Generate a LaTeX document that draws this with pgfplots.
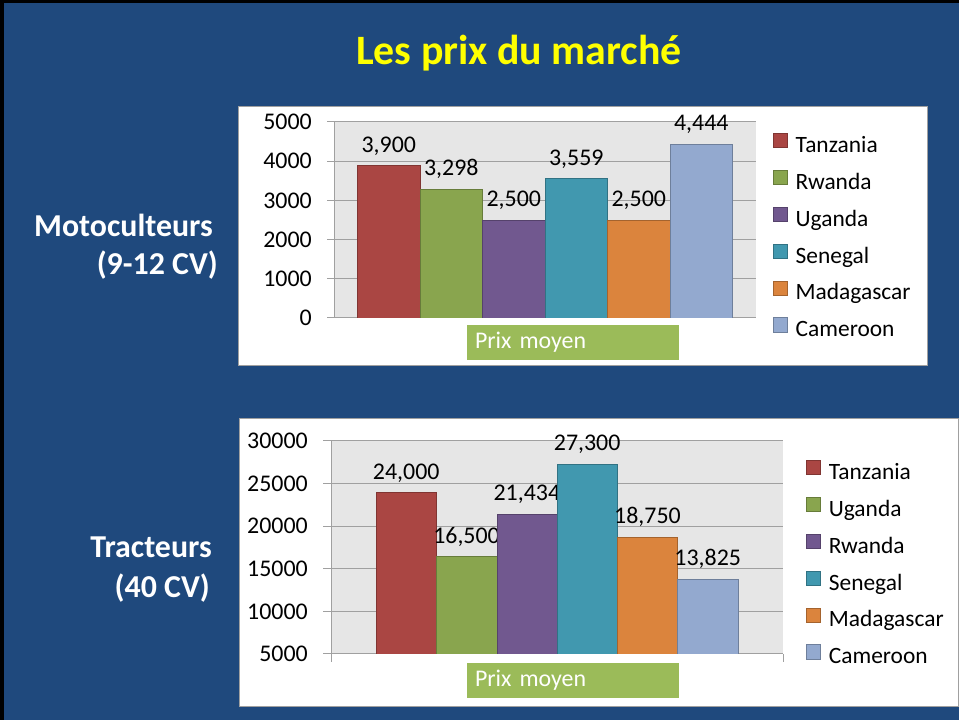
\documentclass[border=0pt]{standalone}
\usepackage{fontspec}
\setmainfont{Carlito}
\usepackage{pgfplots}
\pgfplotsset{compat=1.18}
\usetikzlibrary{shadows}
\definecolor{navy}{RGB}{31,73,125}
\definecolor{cA}{RGB}{170,70,67}
\definecolor{cB}{RGB}{137,165,78}
\definecolor{cC}{RGB}{113,88,143}
\definecolor{cD}{RGB}{65,152,175}
\definecolor{cE}{RGB}{219,132,61}
\definecolor{cF}{RGB}{147,169,207}
\definecolor{plotbg}{RGB}{230,230,230}
\definecolor{gridc}{RGB}{160,160,160}
\definecolor{boxgreen}{RGB}{155,187,89}
\definecolor{ttl}{RGB}{255,255,0}
\tikzset{prixbox/.style={anchor=north west, fill=boxgreen, draw=white, line width=4bp,
      minimum width=216bp, minimum height=39bp, text width=196bp, align=left,
      inner xsep=9bp, inner ysep=0pt, text=white, font=\fontsize{24}{28}\selectfont,
      drop shadow={shadow xshift=1.5bp, shadow yshift=-2bp, opacity=0.35, fill=black}}}
\pgfplotsset{
  sqlegend/.style={legend image code/.code={\draw[##1, line width=0.8bp] (0bp,-0.5bp) rectangle (14bp,14bp);}},
  prixbase/.style={
    scale only axis, ybar=0pt,
    axis background/.style={fill=plotbg},
    axis x line*=bottom, axis y line*=left,
    axis line style={draw=gridc, line width=1bp},
    ymajorgrids, grid style={draw=gridc, line width=1bp},
    tick style={draw=gridc, line width=1bp},
    major tick length=7bp, tick align=outside,
    xmin=-0.5, xmax=0.5,
    scaled y ticks=false,
    /pgf/number format/assume math mode=true,
    yticklabel style={font=\fontsize{24}{28}\selectfont, inner sep=0pt, xshift=-15bp, /pgf/number format/1000 sep={}},
    nodes near coords,
    nodes near coords style={font=\fontsize{24}{28}\selectfont, anchor=base, yshift=13bp, inner sep=0pt, text=black,
      /pgf/number format/.cd, fixed, precision=0, 1000 sep={,}},
    every axis plot post/.append style={sqlegend},
    legend cell align=left,
    legend style={draw=none, fill=none, inner sep=0pt, outer sep=0pt, row sep=13.5bp, column sep=8bp,
      font=\fontsize{23.5}{28}\selectfont, nodes={inner sep=0pt, text height=14bp, text depth=4bp}},
    clip mode=individual,
  }
}
\begin{document}
\begin{tikzpicture}[x=1bp,y=1bp]
\useasboundingbox (0,0) rectangle (959,720);
\fill[navy] (0,0) rectangle (959,720);
\fill[black] (0,717) rectangle (959,720);
\fill[black] (0,0) rectangle (4,720);
\node[anchor=base, inner sep=0pt, text=ttl, font=\fontsize{42}{50}\selectfont\bfseries] at (519,655) {Les prix du marché};
\node[anchor=base east, inner sep=0pt, text=white, font=\fontsize{32}{38}\selectfont\bfseries] at (213,483) {Motoculteurs};
\node[anchor=base east, inner sep=0pt, text=white, font=\fontsize{32}{38}\selectfont\bfseries] at (218,445) {(9-12 CV)};
\node[anchor=base east, inner sep=0pt, text=white, font=\fontsize{32}{38}\selectfont\bfseries] at (212,162) {Tracteurs};
\node[anchor=base east, inner sep=0pt, text=white, font=\fontsize{32}{38}\selectfont\bfseries] at (210,122) {(40 CV)};
\filldraw[fill=white, draw=gridc, line width=1bp] (238,354) rectangle (927,613);
\filldraw[fill=white, draw=gridc, line width=1bp] (239,13) rectangle (958,301);
\begin{axis}[prixbase, at={(334bp,402bp)}, anchor=south west, width=422bp, height=196bp,
  ymin=0, ymax=5000, ytick={0,1000,2000,3000,4000,5000}, bar width=62.5bp,
  xtick=\empty,
  legend style={at={(axis description cs:1.040,0.944)}, anchor=north west}]
\addplot[fill=cA, draw=cA!75!black] coordinates {(0,3900)};
\addplot[fill=cB, draw=cB!75!black] coordinates {(0,3298)};
\addplot[fill=cC, draw=cC!75!black] coordinates {(0,2500)};
\addplot[fill=cD, draw=cD!75!black] coordinates {(0,3559)};
\addplot[fill=cE, draw=cE!75!black] coordinates {(0,2500)};
\addplot[fill=cF, draw=cF!75!black] coordinates {(0,4444)};
\legend{Tanzania,Rwanda,Uganda,Senegal,Madagascar,Cameroon}
\end{axis}
\begin{axis}[prixbase, at={(331bp,66bp)}, anchor=south west, width=452bp, height=213bp,
  ymin=5000, ymax=30000, ytick={5000,10000,15000,20000,25000,30000}, bar width=60.3bp,
  xtick={-0.5,0.5}, xticklabels={}, major tick length=8bp,
  legend style={at={(axis description cs:1.051,0.911)}, anchor=north west}]
\addplot[fill=cA, draw=cA!75!black] coordinates {(0,24000)};
\addplot[fill=cB, draw=cB!75!black] coordinates {(0,16500)};
\addplot[fill=cC, draw=cC!75!black] coordinates {(0,21434)};
\addplot[fill=cD, draw=cD!75!black] coordinates {(0,27300)};
\addplot[fill=cE, draw=cE!75!black] coordinates {(0,18750)};
\addplot[fill=cF, draw=cF!75!black] coordinates {(0,13825)};
\legend{Tanzania,Uganda,Rwanda,Senegal,Madagascar,Cameroon}
\end{axis}
\node[prixbox] at (463,399) {Prix moyen};
\node[prixbox] at (463,61) {Prix moyen};
\end{tikzpicture}
\end{document}
